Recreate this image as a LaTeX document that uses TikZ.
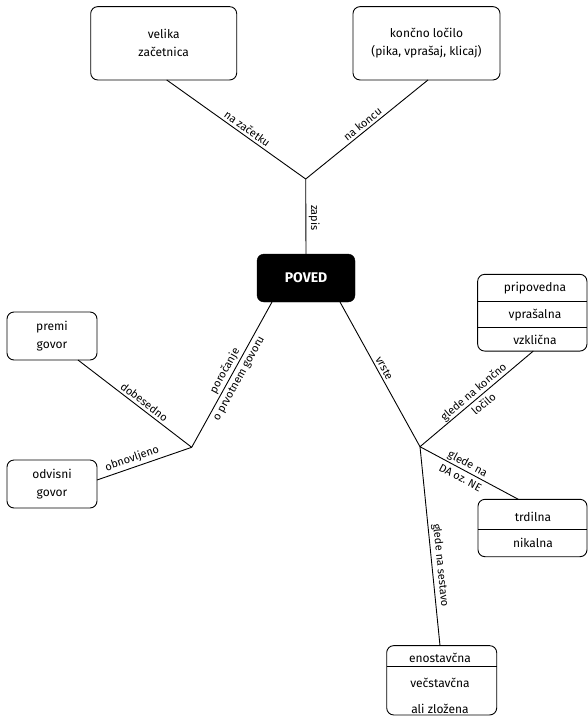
\documentclass[tikz,border=0pt]{standalone}
\usepackage{fontspec}
\setmainfont{Fira Sans}
\usetikzlibrary{calc}
\frenchspacing
\begin{document}
\begin{tikzpicture}[x=1pt,y=-1pt,
  every node/.style={inner sep=0pt, outer sep=0pt},
  box/.style={draw, line width=0.9pt, rounded corners=7pt, align=center, font=\fontsize{12}{18}\selectfont},
  hub/.style={fill=black, draw=black, rounded corners=7pt, text=white, font=\bfseries\fontsize{14}{16}\selectfont},
  conn/.style={line width=0.9pt},
  lbl/.style={sloped, font=\fontsize{11}{16}\selectfont, inner sep=3pt, align=center},
  cell/.style={font=\fontsize{12}{14}\selectfont},
  sepline/.style={line width=0.9pt}
]
\useasboundingbox (0,0) rectangle (588,716);

% boxes
\node[box, minimum width=146pt, minimum height=73.3pt] (velika) at (163.7,43.3) {velika\\začetnica};
\node[box, minimum width=147pt, minimum height=73.3pt] (koncno) at (426.5,43.3) {končno ločilo\\(pika, vprašaj, klicaj)};
\node[hub, minimum width=98pt, minimum height=48pt] (poved) at (306,278) {POVED};
\node[box, minimum width=90pt, minimum height=48pt] (premi) at (52,336) {premi\\govor};
\node[box, minimum width=90pt, minimum height=48pt] (odvisni) at (52,484) {odvisni\\govor};

% multi-part boxes
\node[box, minimum width=109.3pt, minimum height=76.7pt] (vrstebox) at (532.3,312.7) {};
\draw[sepline] (vrstebox.west |- 0,301) -- (vrstebox.east |- 0,301);
\draw[sepline] (vrstebox.west |- 0,327.3) -- (vrstebox.east |- 0,327.3);
\node[cell] (pripovedna) at (535,288.3) {pripovedna};
\node[cell] (vprasalna) at (535,315) {vprašalna};
\node[cell] (vzklicna) at (535,340) {vzklična};

\node[box, minimum width=109pt, minimum height=57.4pt] (danebox) at (532.5,528) {};
\draw[sepline] (danebox.west |- 0,529.3) -- (danebox.east |- 0,529.3);
\node[cell] (trdilna) at (533,516.7) {trdilna};
\node[cell] (nikalna) at (533,543.3) {nikalna};

\node[box, minimum width=110pt, minimum height=69.3pt] (sestbox) at (441.7,680.3) {};
\draw[sepline] (sestbox.west |- 0,666.7) -- (sestbox.east |- 0,666.7);
\node[cell] (enostavcna) at (440,657.7) {enostavčna};
\node[cell] (vecstavcna) at (440,683.3) {večstavčna};
\node[cell] (alizlozena) at (440,709.3) {ali zložena};

% junctions
\coordinate (jt) at (305.7,179);
\coordinate (jl) at (191.7,447.3);
\coordinate (jr) at (420,446.7);

% connectors
\draw[conn] ($(velika.south)+(3,0)$) -- node[lbl, pos=0.55, above] {na začetku} (jt);
\draw[conn] (jt) -- node[lbl, pos=0.5, above] {na koncu} ($(koncno.south)+(1.5,0)$);
\draw[conn] (poved.north) -- node[lbl, pos=0.48, above] {zapis} (jt);

\draw[conn] (jl) -- node[lbl, pos=0.5] {poročanje\\o prvotnem govoru} ($(poved.south)+(-34,0)$);
\draw[conn] ($(premi.south)+(26,0)$) -- node[lbl, pos=0.545, above] {dobesedno} (jl);
\draw[conn] ($(odvisni.east)+(0,-4)$) -- node[lbl, pos=0.4, above] {obnovljeno} (jl);

\draw[conn] ($(poved.south)+(34,0)$) -- node[lbl, pos=0.48, above] {vrste} (jr);
\draw[conn] (jr) -- node[lbl, pos=0.515] {glede na končno\\ločilo} ($(vrstebox.south)+(1,0)$);
\draw[conn] (jr) -- node[lbl, pos=0.45] {glede na\\DA oz. NE} ($(danebox.north)+(-14.2,0)$);
\draw[conn] (jr) -- node[lbl, pos=0.6, above] {glede na sestavo} ($(sestbox.north)+(-1.7,0)$);
\end{tikzpicture}
\end{document}
